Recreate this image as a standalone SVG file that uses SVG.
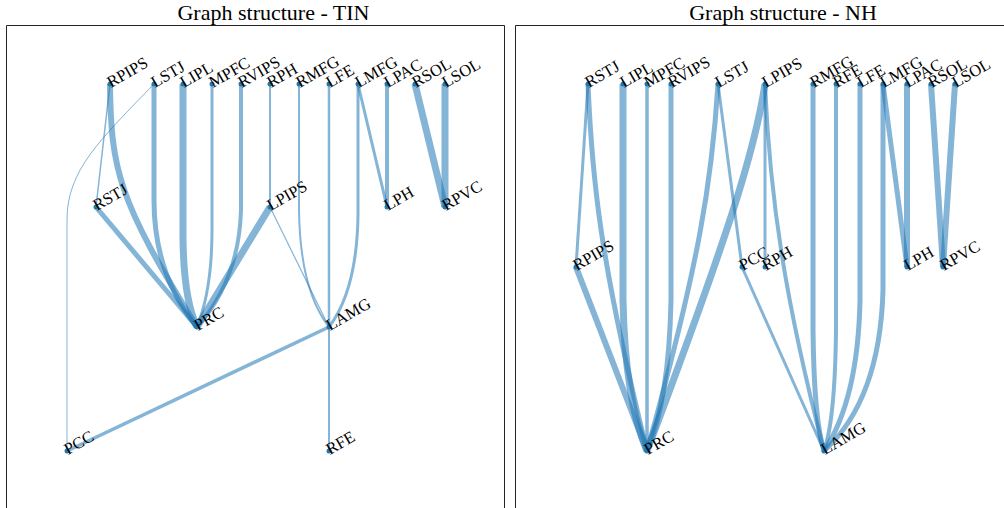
<svg xmlns="http://www.w3.org/2000/svg" width="1004" height="508" viewBox="0 0 1004 508">
<style>
.title{font-family:"Liberation Serif","Times New Roman",serif;font-size:22px;fill:#000;text-anchor:middle}
.lbl{font-family:"Liberation Serif","Times New Roman",serif;font-size:16.5px;fill:#000}
.e{fill:none;stroke:#1f77b4;stroke-opacity:0.55;stroke-linecap:butt}
.n{fill:#1f77b4}
.frame{fill:none;stroke:#222;stroke-width:1}
</style>
<rect width="1004" height="508" fill="#fff"/>
<text class="title" x="273.5" y="20">Graph structure - TIN</text>
<text class="title" x="783" y="20">Graph structure - NH</text>
<path class="frame" d="M6.5,509 V25.5 H504.5 V509"/>
<path class="frame" d="M515.5,509 V25.5 H1005"/>

<g id="edges-tin">
<path class="e" stroke-width="1.5" d="M110,84 L96,207"/>
<path class="e" stroke-width="6" d="M110,84 C111,170 118,200 197,327"/>
<path class="e" stroke-width="1" d="M154,84 C100,140 67,170 67,220 L67,451"/>
<path class="e" stroke-width="5" d="M154,84 L154,200 Q154,275 197,327"/>
<path class="e" stroke-width="7" d="M183,84 L183,240 Q184,300 197,327"/>
<path class="e" stroke-width="3" d="M212,84 L212,230 Q212,290 197,327"/>
<path class="e" stroke-width="4" d="M241,84 L241,210 Q239,280 197,327"/>
<path class="e" stroke-width="5" d="M96,207 L197,327"/>
<path class="e" stroke-width="7" d="M270,207 L197,327"/>
<path class="e" stroke-width="2" d="M270,84 L270,207"/>
<path class="e" stroke-width="1.2" d="M270,207 L329,327"/>
<path class="e" stroke-width="2" d="M299,84 L299,210 Q300,290 329,327"/>
<path class="e" stroke-width="2.5" d="M329,84 L329,327"/>
<path class="e" stroke-width="3" d="M358,84 L358,215 Q357,290 329,327"/>
<path class="e" stroke-width="3" d="M358,84 L387,207"/>
<path class="e" stroke-width="4" d="M387,84 L387,207"/>
<path class="e" stroke-width="7" d="M415,84 L445,207"/>
<path class="e" stroke-width="7" d="M445,84 L445,207"/>
<path class="e" stroke-width="3.5" d="M329,327 L67,451"/>
<path class="e" stroke-width="2" d="M329,327 L329,451"/>
</g>

<g id="edges-nh">
<path class="e" stroke-width="3" d="M588,84 L576,267"/>
<path class="e" stroke-width="5" d="M588,84 C592,180 600,260 647,451"/>
<path class="e" stroke-width="6" d="M576,267 L647,451"/>
<path class="e" stroke-width="7" d="M623,84 L623,300 Q625,400 647,451"/>
<path class="e" stroke-width="3.5" d="M647,84 L647,451"/>
<path class="e" stroke-width="5" d="M671,84 L671,300 Q669,400 647,451"/>
<path class="e" stroke-width="5" d="M718,84 C712,180 700,260 647,451"/>
<path class="e" stroke-width="7" d="M765,84 C755,150 730,230 647,451"/>
<path class="e" stroke-width="3" d="M718,84 L742,267"/>
<path class="e" stroke-width="3" d="M742,267 L824,451"/>
<path class="e" stroke-width="3" d="M765,84 L765,267"/>
<path class="e" stroke-width="4" d="M765,84 C770,200 785,300 824,451"/>
<path class="e" stroke-width="5" d="M813,84 L813,330 Q814,420 824,451"/>
<path class="e" stroke-width="4" d="M836,84 L836,330 Q835,420 824,451"/>
<path class="e" stroke-width="5" d="M860,84 L860,300 Q858,400 824,451"/>
<path class="e" stroke-width="5" d="M883,84 L883,290 Q880,400 824,451"/>
<path class="e" stroke-width="5" d="M883,84 L907,267"/>
<path class="e" stroke-width="6" d="M907,84 L907,267"/>
<path class="e" stroke-width="6" d="M931,84 L943,267"/>
<path class="e" stroke-width="6" d="M955,84 L943,267"/>
</g>

<g id="tin-RPIPS"><circle class="n" cx="110" cy="84" r="2.5"/><text class="lbl" transform="translate(111,88) rotate(-30)">RPIPS</text></g>
<g id="tin-LSTJ"><circle class="n" cx="154" cy="84" r="2.5"/><text class="lbl" transform="translate(155,88) rotate(-30)">LSTJ</text></g>
<g id="tin-LIPL"><circle class="n" cx="183" cy="84" r="2.5"/><text class="lbl" transform="translate(184,88) rotate(-30)">LIPL</text></g>
<g id="tin-MPFC"><circle class="n" cx="212" cy="84" r="2.5"/><text class="lbl" transform="translate(213,88) rotate(-30)">MPFC</text></g>
<g id="tin-RVIPS"><circle class="n" cx="241" cy="84" r="2.5"/><text class="lbl" transform="translate(242,88) rotate(-30)">RVIPS</text></g>
<g id="tin-RPH"><circle class="n" cx="270" cy="84" r="2.5"/><text class="lbl" transform="translate(271,88) rotate(-30)">RPH</text></g>
<g id="tin-RMFG"><circle class="n" cx="299" cy="84" r="2.5"/><text class="lbl" transform="translate(300,88) rotate(-30)">RMFG</text></g>
<g id="tin-LFE"><circle class="n" cx="329" cy="84" r="2.5"/><text class="lbl" transform="translate(330,88) rotate(-30)">LFE</text></g>
<g id="tin-LMFG"><circle class="n" cx="358" cy="84" r="2.5"/><text class="lbl" transform="translate(359,88) rotate(-30)">LMFG</text></g>
<g id="tin-LPAC"><circle class="n" cx="387" cy="84" r="2.5"/><text class="lbl" transform="translate(388,88) rotate(-30)">LPAC</text></g>
<g id="tin-RSOL"><circle class="n" cx="415" cy="84" r="2.5"/><text class="lbl" transform="translate(416,88) rotate(-30)">RSOL</text></g>
<g id="tin-LSOL"><circle class="n" cx="445" cy="84" r="2.5"/><text class="lbl" transform="translate(446,88) rotate(-30)">LSOL</text></g>
<g id="tin-RSTJ"><circle class="n" cx="96" cy="207" r="2.5"/><text class="lbl" transform="translate(97,211) rotate(-30)">RSTJ</text></g>
<g id="tin-LPIPS"><circle class="n" cx="270" cy="207" r="2.5"/><text class="lbl" transform="translate(271,211) rotate(-30)">LPIPS</text></g>
<g id="tin-LPH"><circle class="n" cx="387" cy="207" r="2.5"/><text class="lbl" transform="translate(388,211) rotate(-30)">LPH</text></g>
<g id="tin-RPVC"><circle class="n" cx="445" cy="207" r="2.5"/><text class="lbl" transform="translate(446,211) rotate(-30)">RPVC</text></g>
<g id="tin-PRC"><circle class="n" cx="197" cy="327" r="2.5"/><text class="lbl" transform="translate(198,331) rotate(-30)">PRC</text></g>
<g id="tin-LAMG"><circle class="n" cx="329" cy="327" r="2.5"/><text class="lbl" transform="translate(330,331) rotate(-30)">LAMG</text></g>
<g id="tin-PCC"><circle class="n" cx="67" cy="451" r="2.5"/><text class="lbl" transform="translate(68,455) rotate(-30)">PCC</text></g>
<g id="tin-RFE"><circle class="n" cx="329" cy="451" r="2.5"/><text class="lbl" transform="translate(330,455) rotate(-30)">RFE</text></g>

<g id="nh-RSTJ"><circle class="n" cx="588" cy="84" r="2.5"/><text class="lbl" transform="translate(589,88) rotate(-30)">RSTJ</text></g>
<g id="nh-LIPL"><circle class="n" cx="623" cy="84" r="2.5"/><text class="lbl" transform="translate(624,88) rotate(-30)">LIPL</text></g>
<g id="nh-MPFC"><circle class="n" cx="647" cy="84" r="2.5"/><text class="lbl" transform="translate(648,88) rotate(-30)">MPFC</text></g>
<g id="nh-RVIPS"><circle class="n" cx="671" cy="84" r="2.5"/><text class="lbl" transform="translate(672,88) rotate(-30)">RVIPS</text></g>
<g id="nh-LSTJ"><circle class="n" cx="718" cy="84" r="2.5"/><text class="lbl" transform="translate(719,88) rotate(-30)">LSTJ</text></g>
<g id="nh-LPIPS"><circle class="n" cx="765" cy="84" r="2.5"/><text class="lbl" transform="translate(766,88) rotate(-30)">LPIPS</text></g>
<g id="nh-RMFG"><circle class="n" cx="813" cy="84" r="2.5"/><text class="lbl" transform="translate(814,88) rotate(-30)">RMFG</text></g>
<g id="nh-RFE"><circle class="n" cx="836" cy="84" r="2.5"/><text class="lbl" transform="translate(837,88) rotate(-30)">RFE</text></g>
<g id="nh-LFE"><circle class="n" cx="860" cy="84" r="2.5"/><text class="lbl" transform="translate(861,88) rotate(-30)">LFE</text></g>
<g id="nh-LMFG"><circle class="n" cx="883" cy="84" r="2.5"/><text class="lbl" transform="translate(884,88) rotate(-30)">LMFG</text></g>
<g id="nh-LPAC"><circle class="n" cx="907" cy="84" r="2.5"/><text class="lbl" transform="translate(908,88) rotate(-30)">LPAC</text></g>
<g id="nh-RSOL"><circle class="n" cx="931" cy="84" r="2.5"/><text class="lbl" transform="translate(932,88) rotate(-30)">RSOL</text></g>
<g id="nh-LSOL"><circle class="n" cx="955" cy="84" r="2.5"/><text class="lbl" transform="translate(956,88) rotate(-30)">LSOL</text></g>
<g id="nh-RPIPS"><circle class="n" cx="576" cy="267" r="2.5"/><text class="lbl" transform="translate(577,271) rotate(-30)">RPIPS</text></g>
<g id="nh-PCC"><circle class="n" cx="742" cy="267" r="2.5"/><text class="lbl" transform="translate(743,271) rotate(-30)">PCC</text></g>
<g id="nh-RPH"><circle class="n" cx="765" cy="267" r="2.5"/><text class="lbl" transform="translate(766,271) rotate(-30)">RPH</text></g>
<g id="nh-LPH"><circle class="n" cx="907" cy="267" r="2.5"/><text class="lbl" transform="translate(908,271) rotate(-30)">LPH</text></g>
<g id="nh-RPVC"><circle class="n" cx="943" cy="267" r="2.5"/><text class="lbl" transform="translate(944,271) rotate(-30)">RPVC</text></g>
<g id="nh-PRC"><circle class="n" cx="647" cy="451" r="2.5"/><text class="lbl" transform="translate(648,455) rotate(-30)">PRC</text></g>
<g id="nh-LAMG"><circle class="n" cx="824" cy="451" r="2.5"/><text class="lbl" transform="translate(825,455) rotate(-30)">LAMG</text></g>
</svg>
